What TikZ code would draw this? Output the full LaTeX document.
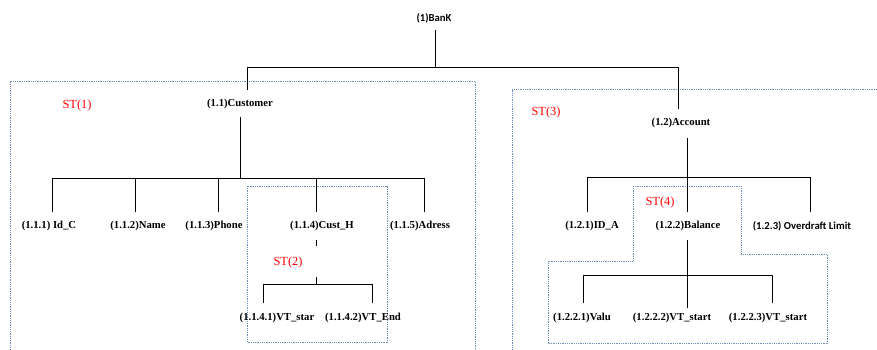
\documentclass[tikz,border=0pt]{standalone}
\usepackage{fontspec}
\setmainfont{Liberation Serif}
\newfontfamily\calib{Carlito}
\definecolor{boxblue}{RGB}{110,140,185}
\tikzset{
  lbl/.style={font=\fontsize{10.7}{12}\selectfont\bfseries, inner sep=0pt},
  slbl/.style={font=\calib\fontsize{10.7}{12}\selectfont\bfseries, inner sep=0pt},
  stlbl/.style={font=\fontsize{12.4}{14}\selectfont, text=red, inner sep=0pt},
  conn/.style={line width=0.9pt, black},
  stbox/.style={boxblue, line width=0.9pt, dash pattern=on 0.9pt off 0.9pt}
}
\begin{document}
\begin{tikzpicture}[x=1pt,y=-1pt]
\useasboundingbox (0,0) rectangle (877,350);
% subtree boxes
\draw[stbox] (10,355) -- (10,81) -- (475,81) -- (475,355);
\draw[stbox] (512,355) -- (512,89) -- (885,89);
\draw[stbox] (247,186) rectangle (387,342);
\draw[stbox] (633,186) -- (741,186) -- (741,254) -- (827,254) -- (827,343) -- (548,343) -- (548,261) -- (633,261) -- cycle;

% labels
\node[slbl] (bank) at (434,18) {(1)BanK};
\node[lbl] (cust) at (240,104) {(1.1)Customer};
\node[lbl] (acc) at (681,123) {(1.2)Account};
\node[stlbl] (st1) at (77,106) {ST(1)};
\node[stlbl] (st2) at (288,263) {ST(2)};
\node[stlbl] (st3) at (546,113) {ST(3)};
\node[stlbl] (st4) at (660,203) {ST(4)};

\node[lbl] (c1) at (49,226) {(1.1.1) Id\_C};
\node[lbl] (c2) at (138,226) {(1.1.2)Name};
\node[lbl] (c3) at (214,226) {(1.1.3)Phone};
\node[lbl] (c4) at (322,226) {(1.1.4)Cust\_H};
\node[lbl] (c5) at (420,226) {(1.1.5)Adress};
\node[lbl] (c41) at (277,318) {(1.1.4.1)VT\_star};
\node[lbl] (c42) at (363,318) {(1.1.4.2)VT\_End};

\node[lbl] (a1) at (592,226) {(1.2.1)ID\_A};
\node[lbl] (a2) at (688,226) {(1.2.2)Balance};
\node[slbl] (a3) at (802,226) {(1.2.3) Overdraft Limit};
\node[lbl] (a21) at (582,318) {(1.2.2.1)Valu};
\node[lbl] (a22) at (672,318) {(1.2.2.2)VT\_start};
\node[lbl] (a23) at (768,318) {(1.2.2.3)VT\_start};

% connector points
\coordinate (bankdn) at (435,30);
\coordinate (custup) at (247,90);
\coordinate (accup) at (678,109);
\coordinate (custdn) at (240,117);
\coordinate (accdn) at (687,138);
\coordinate (baldn) at (687,240);

% level 1
\draw[conn] (bankdn) -- (435,67);
\draw[conn] (custup) |- (accup |- 0,67) -- (accup);
% customer children
\draw[conn] (custdn) -- (240,178);
\draw[conn] (52,212) |- (424,178) -- (424,212);
\foreach \xx in {135,218,316} \draw[conn] (\xx,178) -- (\xx,212);
% cust_h children
\draw[conn] (316,240) -- (316,246);
\draw[conn] (316,277) -- (316,284);
\draw[conn] (263,303) |- (372,284) -- (372,303);
% account children
\draw[conn] (accdn) -- (687,212);
\draw[conn] (587,212) |- (810,177) -- (810,212);
% balance children
\draw[conn] (baldn) -- (687,308);
\draw[conn] (583,303) |- (772,275) -- (772,303);
\end{tikzpicture}
\end{document}
